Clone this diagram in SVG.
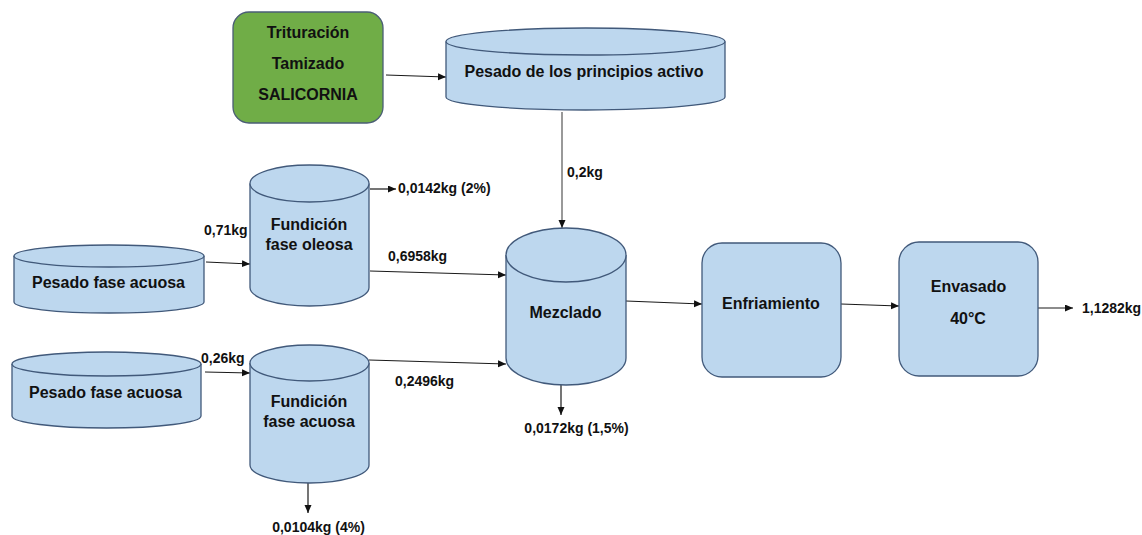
<svg xmlns="http://www.w3.org/2000/svg" width="1142" height="535" viewBox="0 0 1142 535">
<style>
.cyl{fill:#bdd7ee;stroke:#41597a;stroke-width:1.3}
.box{fill:#bdd7ee;stroke:#41597a;stroke-width:1.3}
.green{fill:#70ad47;stroke:#4a5d75;stroke-width:1.3}
.t{font-family:"Liberation Sans",Arial,sans-serif;font-weight:bold;font-size:16px;fill:#111;text-anchor:middle}
.l{font-family:"Liberation Sans",Arial,sans-serif;font-weight:bold;font-size:14px;fill:#111}
.c{fill:none;stroke:#1a1a1a;stroke-width:1.2;marker-end:url(#ah)}
</style>
<defs>
<marker id="ah" markerUnits="userSpaceOnUse" markerWidth="9" markerHeight="8" refX="8" refY="3.5" orient="auto">
<path d="M0,0 L8,3.5 L0,7 z" fill="#111"/>
</marker>
</defs>
<rect width="1142" height="535" fill="#fff"/>

<g id="connectors">
<path class="c" d="M386,75 L446,77"/>
<path class="c" d="M562,112 L562,228" style="stroke:#555"/>
<path class="c" d="M206,262 L250,264"/>
<path class="c" d="M370,189 L396,189"/>
<path class="c" d="M370,271 L506,275"/>
<path class="c" d="M205,372 L250,373"/>
<path class="c" d="M369,360 L506,364"/>
<path class="c" d="M308,483 L308,513"/>
<path class="c" d="M561,385 L561,415"/>
<path class="c" d="M626,301 L702,304"/>
<path class="c" d="M841,304 L899,306"/>
<path class="c" d="M1038,308 L1073,308"/>
</g>

<g id="trituracion">
<rect class="green" x="233" y="12" width="150" height="111" rx="16"/>
<text class="t" x="308" y="38">Trituración</text>
<text class="t" x="308" y="69">Tamizado</text>
<text class="t" x="308" y="100">SALICORNIA</text>
</g>

<g id="pesado-principios">
<path class="cyl" d="M446,41.5 L446,97 A139.5,13 0 0 0 725,97 L725,41.5"/>
<ellipse class="cyl" cx="585.5" cy="41.5" rx="139.5" ry="13.5"/>
<text class="t" x="584" y="77" textLength="239" lengthAdjust="spacing">Pesado de los principios activo</text>
</g>

<g id="fundicion-oleosa">
<path class="cyl" d="M250,183.5 L250,287.5 A59.5,18.5 0 0 0 369,287.5 L369,183.5"/>
<ellipse class="cyl" cx="309.5" cy="183.5" rx="59.5" ry="18.5"/>
<text class="t" x="309" y="230">Fundición</text>
<text class="t" x="309" y="250">fase oleosa</text>
</g>

<g id="pesado-acuosa-1">
<path class="cyl" d="M14,256 L14,302 A95,11 0 0 0 204,302 L204,256"/>
<ellipse class="cyl" cx="109" cy="256" rx="95" ry="11"/>
<text class="t" x="108.5" y="288">Pesado fase acuosa</text>
</g>

<g id="pesado-acuosa-2">
<path class="cyl" d="M12,364 L12,416 A94.5,12 0 0 0 201,416 L201,364"/>
<ellipse class="cyl" cx="106.5" cy="364" rx="94.5" ry="12"/>
<text class="t" x="105.5" y="398">Pesado fase acuosa</text>
</g>

<g id="fundicion-acuosa">
<path class="cyl" d="M250,363 L250,465 A59.5,18 0 0 0 369,465 L369,363"/>
<ellipse class="cyl" cx="309.5" cy="363" rx="59.5" ry="18"/>
<text class="t" x="309" y="407">Fundición</text>
<text class="t" x="309" y="427">fase acuosa</text>
</g>

<g id="mezclado">
<path class="cyl" d="M506,255 L506,358 A60,27 0 0 0 626,358 L626,255"/>
<ellipse class="cyl" cx="566" cy="255" rx="60" ry="27"/>
<text class="t" x="565.5" y="318">Mezclado</text>
</g>

<g id="enfriamiento">
<rect class="box" x="702" y="243" width="139" height="134" rx="20"/>
<text class="t" x="771" y="309">Enfriamiento</text>
</g>

<g id="envasado">
<rect class="box" x="899" y="242" width="139" height="134" rx="20"/>
<text class="t" x="968.5" y="292">Envasado</text>
<text class="t" x="968" y="324">40°C</text>
</g>

<g id="labels">
<text class="l" x="567" y="177">0,2kg</text>
<text class="l" x="398" y="193">0,0142kg (2%)</text>
<text class="l" x="204" y="235">0,71kg</text>
<text class="l" x="388" y="261">0,6958kg</text>
<text class="l" x="201" y="363">0,26kg</text>
<text class="l" x="395" y="386">0,2496kg</text>
<text class="l" x="318.5" y="532" text-anchor="middle" style="text-anchor:middle">0,0104kg (4%)</text>
<text class="l" x="576.5" y="433" style="text-anchor:middle">0,0172kg (1,5%)</text>
<text class="l" x="1082" y="313">1,1282kg</text>
</g>
</svg>
